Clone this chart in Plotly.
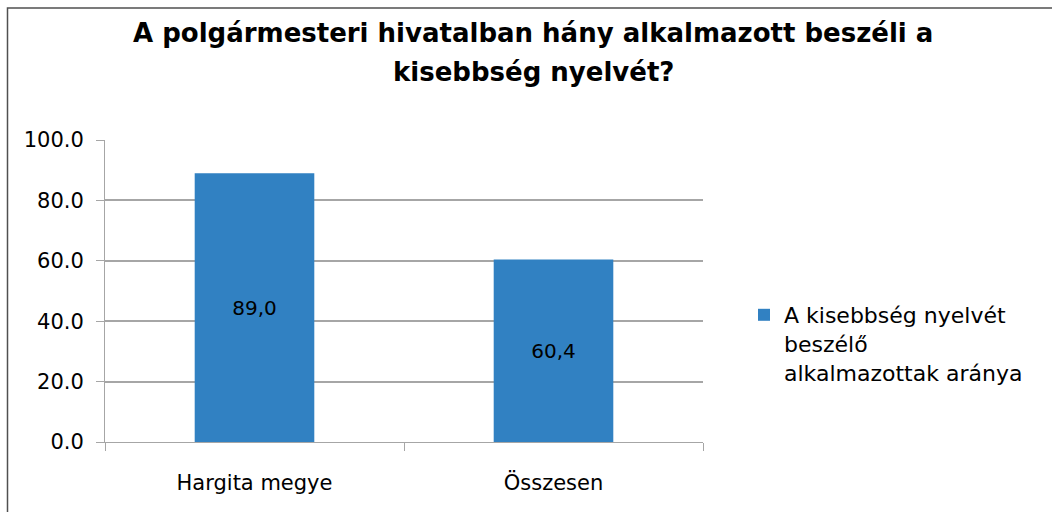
import plotly.graph_objects as go

categories = ["Hargita megye", "Összesen"]
values = [89.0, 60.4]
series_name = "A kisebbség nyelvét<br>beszélő<br>alkalmazottak aránya"
title_lines = ["A polgármesteri hivatalban hány alkalmazott beszéli a", "kisebbség nyelvét?"]
y_ticks = [0, 20, 40, 60, 80, 100]

W, H = 1052, 512
L, R, T, B = 105, 349, 140, 70
pw, ph = W - L - R, H - T - B

def px(x):
    return (x - L) / pw

def py(y):
    return (H - B - y) / ph

labels = [f"{v:.1f}".replace(".", ",") for v in values]

fig = go.Figure()
fig.add_trace(go.Bar(
    x=categories, y=values, name=series_name,
    marker=dict(color="#3181C2", line=dict(width=0)),
    text=labels, textposition="inside", insidetextanchor="middle",
    textfont=dict(family="DejaVu Sans", size=20, color="black"),
    showlegend=True,
))

font = "DejaVu Sans"
fig.update_layout(
    width=W, height=H,
    margin=dict(l=L, r=R, t=T, b=B, autoexpand=False),
    paper_bgcolor="white", plot_bgcolor="white",
    bargap=0.6,
    font=dict(family=font, size=18, color="black"),
    showlegend=True,
    legend=dict(x=px(744), y=py(294), xanchor="left", yanchor="top", valign="top",
                font=dict(family=font, size=22, color="black"),
                itemsizing="constant", tracegroupgap=0, itemwidth=30),
    xaxis=dict(showgrid=False, showline=True, linecolor="#A6A6A6", linewidth=1,
               ticks="outside", tickson="boundaries", ticklen=8, tickcolor="#A6A6A6",
               tickfont=dict(family=font, size=21), ticklabelstandoff=22),
    yaxis=dict(range=[0, 100], tickvals=y_ticks, tickformat=".1f",
               showgrid=True, gridcolor="#A6A6A6", gridwidth=1.5,
               showline=True, linecolor="#A6A6A6", linewidth=1,
               ticks="outside", ticklen=8, tickcolor="#A6A6A6",
               tickfont=dict(family=font, size=21), ticklabelstandoff=8,
               zeroline=False),
)

for i, (line, ypix) in enumerate(zip(title_lines, [33, 72])):
    fig.add_annotation(text=f"<b>{line}</b>", x=px(533), y=py(ypix), xref="paper", yref="paper",
                       xanchor="center", yanchor="middle", showarrow=False,
                       font=dict(family=font, size=26, color="black"))

fig.add_shape(type="rect", xref="paper", yref="paper",
              x0=px(7.5), x1=px(1060), y0=py(530), y1=py(8),
              line=dict(color="#505050", width=1.5), fillcolor="rgba(0,0,0,0)", layer="below")

fig.write_html("out.html", config={"displayModeBar": False},
               post_script="document.body.style.margin='0px';")
